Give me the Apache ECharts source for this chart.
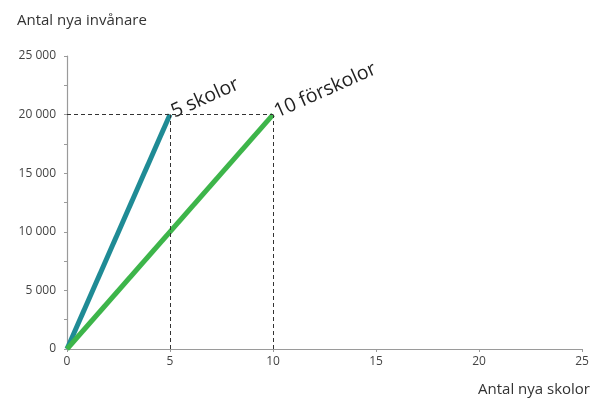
<!DOCTYPE html>
<html>
<head>
<meta charset="utf-8">
<script src="https://cdn.jsdelivr.net/npm/echarts@6/dist/echarts.min.js"></script>
<style>
  html, body { margin: 0; padding: 0; background: #fff; }
  #chart { width: 595px; height: 401px; }
</style>
</head>
<body>
<div id="chart"></div>
<script>
// Number of new residents served by new schools vs. new preschools
var schoolsPoints = [[0, 0], [5, 20000]];
var preschoolPoints = [[0, 0], [10, 20000]];
var schoolsLabel = '5 skolor';
var preschoolLabel = '10 förskolor';
var yTitle = 'Antal nya invånare';
var xTitle = 'Antal nya skolor';
var xMax = 25;
var yMax = 25000;
var refLevel = 20000;

var FONT = '"Open Sans", Roboto, "DejaVu Sans", sans-serif';

function fmtThousands(v) {
  return String(v).replace(/\B(?=(\d{3})+(?!\d))/g, ' ');
}

function withEndLabel(points, text) {
  return points.map(function (p, i) {
    if (i !== points.length - 1) return p;
    return {
      value: p,
      label: {
        show: true,
        formatter: text,
        position: 'right',
        distance: 3,
        rotate: 24,
        align: 'left',
        verticalAlign: 'bottom',
        fontFamily: FONT,
        fontSize: 19.5,
        color: '#222',
        padding: [0, 0, -8, 0]
      }
    };
  });
}

var chart = echarts.init(document.getElementById('chart'), null, { renderer: 'canvas' });

chart.setOption({
  animation: false,
  backgroundColor: '#fff',
  title: {
    text: yTitle,
    left: 12,
    top: 8,
    textStyle: { fontFamily: FONT, fontSize: 15, fontWeight: 'normal', color: '#333' }
  },
  grid: { left: 67, right: 13, top: 56, bottom: 52, containLabel: false },
  xAxis: {
    type: 'value',
    min: 0,
    max: xMax,
    interval: 5,
    name: xTitle,
    nameLocation: 'end',
    nameGap: 8,
    nameTextStyle: {
      fontFamily: FONT, fontSize: 15, color: '#333',
      align: 'right', verticalAlign: 'top', padding: [33, 0, 0, 0]
    },
    axisLine: { lineStyle: { color: '#9a9a9a', width: 1.2 } },
    axisTick: { show: true, length: 3, lineStyle: { color: '#9a9a9a' } },
    axisLabel: { fontFamily: FONT, fontSize: 12, color: '#444', margin: 7 },
    splitLine: { show: false }
  },
  yAxis: {
    type: 'value',
    min: 0,
    max: yMax,
    interval: 5000,
    axisLine: { show: true, lineStyle: { color: '#9a9a9a', width: 1.2 } },
    axisTick: { show: true, length: 3, lineStyle: { color: '#9a9a9a' } },
    minorTick: { show: true, splitNumber: 2, length: 3, lineStyle: { color: '#9a9a9a' } },
    axisLabel: {
      fontFamily: FONT, fontSize: 12, color: '#444', margin: 11,
      formatter: fmtThousands
    },
    splitLine: { show: false }
  },
  series: [
    {
      // dashed reference lines at the 20 000 level
      type: 'line',
      data: [],
      z: 1,
      silent: true,
      markLine: {
        silent: true,
        symbol: ['none', 'none'],
        label: { show: false },
        lineStyle: { type: [4, 3], color: '#333', width: 1 },
        data: [
          [{ coord: [0, refLevel] }, { coord: [preschoolPoints[1][0], refLevel] }],
          [{ coord: [schoolsPoints[1][0], 0] }, { coord: [schoolsPoints[1][0], refLevel] }],
          [{ coord: [preschoolPoints[1][0], 0] }, { coord: [preschoolPoints[1][0], refLevel] }]
        ]
      }
    },
    {
      name: schoolsLabel,
      type: 'line',
      z: 3,
      data: withEndLabel(schoolsPoints, schoolsLabel),
      showSymbol: true,
      symbol: 'circle',
      symbolSize: 0,
      lineStyle: { color: '#1f8b95', width: 5 },
      itemStyle: { color: '#1f8b95' }
    },
    {
      name: preschoolLabel,
      type: 'line',
      z: 3,
      data: withEndLabel(preschoolPoints, preschoolLabel),
      showSymbol: true,
      symbol: 'circle',
      symbolSize: 0,
      lineStyle: { color: '#3db54a', width: 5 },
      itemStyle: { color: '#3db54a' }
    }
  ]
});
</script>
</body>
</html>
